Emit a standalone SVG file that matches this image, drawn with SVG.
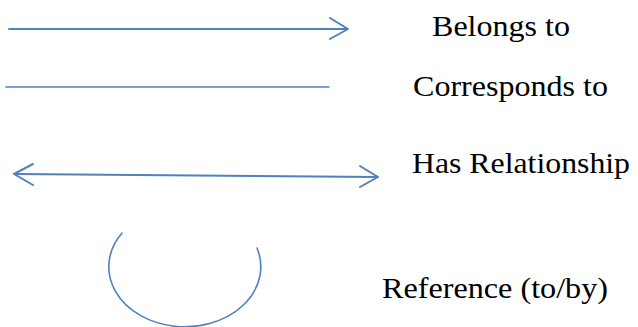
<svg xmlns="http://www.w3.org/2000/svg" width="638" height="327" viewBox="0 0 638 327">
  <style>
    .edge { fill: none; stroke: #4f81bd; stroke-width: 2; stroke-linecap: round; stroke-linejoin: round; }
    .thin { stroke-width: 1.6; }
  </style>
  <rect width="638" height="327" fill="#fff"/>
  <g id="connectors">
    <!-- belongs to: single-headed arrow -->
    <g id="belongs-arrow">
      <line class="edge" x1="9" y1="29" x2="347" y2="29"/>
      <polyline class="edge" points="330,18 348,29 330,39"/>
    </g>
    <!-- corresponds to: plain line -->
    <line id="corresponds-line" class="edge thin" x1="6" y1="87" x2="329" y2="87"/>
    <!-- has relationship: double-headed arrow -->
    <g id="relationship-arrow">
      <line class="edge" x1="15" y1="174" x2="377" y2="177"/>
      <polyline class="edge" points="33,164 14,174 33,185"/>
      <polyline class="edge" points="360,166 378,177 360,187"/>
    </g>
    <!-- reference: open arc -->
    <path id="reference-arc" class="edge thin" d="M122,233 A76,60 0 1 0 257,248"/>
  </g>
  <g id="legend-labels" font-family="Liberation Serif, Times New Roman, serif" font-size="30" fill="#000">
    <text id="label-belongs" x="432" y="36" textLength="138" lengthAdjust="spacingAndGlyphs">Belongs to</text>
    <text id="label-corresponds" x="413" y="96" textLength="195" lengthAdjust="spacingAndGlyphs">Corresponds to</text>
    <text id="label-relationship" x="412" y="173" textLength="218" lengthAdjust="spacingAndGlyphs">Has Relationship</text>
    <text id="label-reference" x="382" y="298" textLength="226" lengthAdjust="spacingAndGlyphs">Reference (to/by)</text>
  </g>
</svg>
